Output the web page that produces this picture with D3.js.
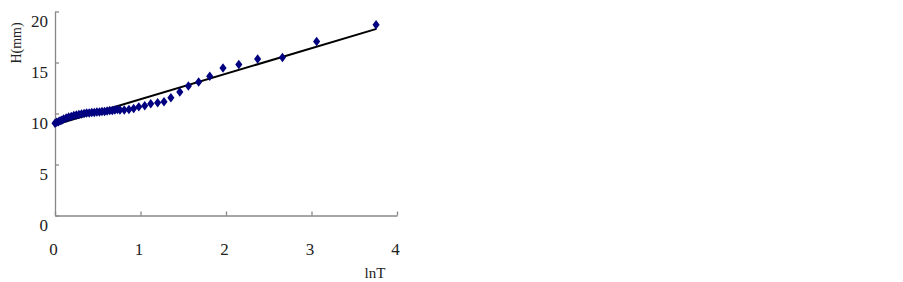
<!DOCTYPE html>
<html lang="en">
<head>
    <meta charset="UTF-8">
    <title>H vs lnT</title>
    <style>
        body,html{
            margin:0;
            padding:0;
            border:0;
            background:#fff;
        }
        svg text{
            font-family:"Liberation Serif","DejaVu Serif",serif;
            fill:#222;
        }
    </style>
</head>
<body>
    <svg id="svg" width="903" height="282"></svg>
    <script type="text/javascript" src="https://cdnjs.cloudflare.com/ajax/libs/d3/7.8.5/d3.min.js"></script>
    <script type="text/javascript">
        // measured points (lnT, H)
        var lnT = [0.00,0.02,0.04,0.06,0.08,0.10,0.13,0.16,0.19,0.22,0.25,0.28,0.31,0.34,0.37,0.40,0.43,0.46,0.49,0.52,0.55,0.58,0.61,0.64,0.67,0.70,0.73,
                   0.76,0.81,0.865,0.92,0.98,1.05,1.12,1.20,1.275,1.355,1.46,1.56,1.68,1.81,1.965,2.15,2.37,2.66,3.06,3.755];
        var H   = [9.05,9.15,9.2,9.3,9.35,9.45,9.55,9.65,9.7,9.8,9.85,9.9,9.95,10.0,10.05,10.05,10.1,10.1,10.15,10.15,10.2,10.2,10.25,10.3,10.3,10.35,10.4,
                   10.35,10.35,10.4,10.5,10.65,10.75,10.95,11.05,11.15,11.55,12.1,12.7,13.1,13.65,14.45,14.8,15.35,15.5,17.05,18.7];

        // fitted line end points
        var fitX = [0, 3.76];
        var fitY = [8.9, 18.3];

        var xTicks = [0,1,2,3,4];
        var yTicks = [0,5,10,15,20];

        var svg = d3.select("#svg");

        var x = d3.scaleLinear().domain([0,4]).range([55,397]);
        var y = d3.scaleLinear().domain([0,20]).range([215.5,11.5]);

        var axisColor = "#888";

        //x axis, ticks pointing up
        var gx = svg.append("g")
            .attr("transform","translate(0,215.5)")
            .call(d3.axisBottom(x).tickValues(xTicks).tickFormat(d3.format("d"))
                .tickSizeInner(-4).tickSizeOuter(0).tickPadding(27));
        gx.selectAll("path,line").attr("stroke",axisColor).attr("stroke-width",1.3);
        gx.selectAll("text")
            .attr("font-size","17px")
            .attr("font-family","Liberation Serif")
            .attr("fill","#222")
            .attr("dx","-2");

        //y axis, ticks pointing right
        var gy = svg.append("g")
            .attr("transform","translate(55,0)")
            .call(d3.axisLeft(y).tickValues(yTicks).tickFormat(d3.format("d"))
                .tickSizeInner(-4).tickSizeOuter(0).tickPadding(7));
        gy.selectAll("path,line").attr("stroke",axisColor).attr("stroke-width",1.3);
        gy.selectAll("text")
            .attr("font-size","17px")
            .attr("font-family","Liberation Serif")
            .attr("fill","#222")
            .attr("y",9.5);

        //axis titles
        svg.append("text")
            .attr("x",375).attr("y",278)
            .attr("text-anchor","middle")
            .attr("font-size","15px")
            .text("lnT");

        svg.append("text")
            .attr("transform","translate(21,43) rotate(-90)")
            .attr("text-anchor","middle")
            .attr("font-size","14px")
            .text("H(mm)");

        //fitted line
        var line = d3.line()
            .x(function(d){return x(d[0]);})
            .y(function(d){return y(d[1]);});

        svg.append("path")
            .datum(d3.zip(fitX,fitY))
            .attr("d",line)
            .attr("fill","none")
            .attr("stroke","#000")
            .attr("stroke-width",2);

        //points
        var diamond = d3.symbol().type(d3.symbolDiamond).size(26);
        svg.selectAll("path.pt").data(d3.zip(lnT,H)).enter().append("path")
            .attr("class","pt")
            .attr("d",diamond)
            .attr("transform",function(d){return "translate("+x(d[0])+","+y(d[1])+") scale(1.3,1)";})
            .attr("fill","#000080");
    </script>
</body>
</html>
